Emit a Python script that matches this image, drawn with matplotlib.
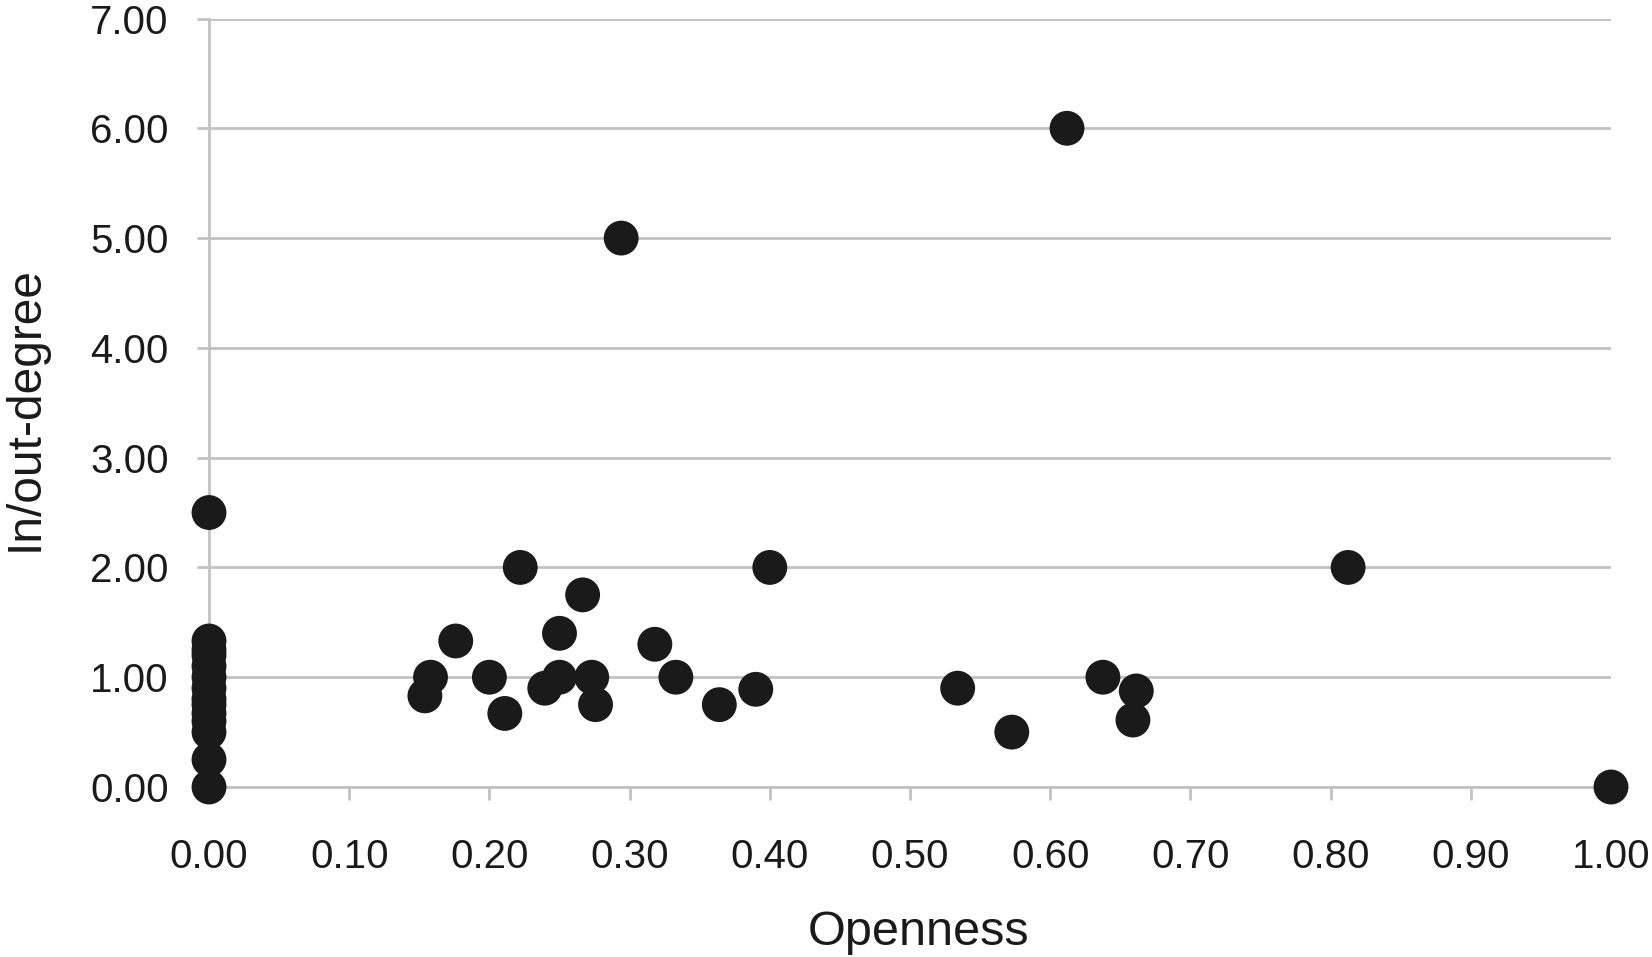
import matplotlib
matplotlib.use("Agg")
import matplotlib.pyplot as plt

plt.rcParams['font.family'] = ['Liberation Sans', 'DejaVu Sans']

# Openness (x) and In/out-degree (y)
openness = [0.0, 0.0, 0.0, 0.0, 0.0, 0.0, 0.0, 0.0, 0.0, 0.0, 0.0, 0.0, 0.0, 0.0,
            0.612, 0.294, 0.222, 0.400, 0.8125, 0.2665, 0.176, 0.250, 0.318,
            0.158, 0.154, 0.200, 0.211, 0.2395, 0.250, 0.273, 0.2757, 0.333,
            0.364, 0.390, 0.534, 0.5726, 0.6376, 0.6614, 0.659, 1.0]
degree = [2.5, 0.0, 0.25, 0.5, 0.6, 0.67, 0.75, 0.8, 0.9, 1.0, 1.1, 1.2, 1.25, 1.33,
          6.0, 5.0, 2.0, 2.0, 2.0, 1.75, 1.33, 1.4, 1.3,
          1.0, 0.83, 1.0, 0.67, 0.9, 1.0, 1.0, 0.75, 1.0,
          0.75, 0.89, 0.9, 0.5, 1.0, 0.875, 0.61, 0.0]

x_ticks = [0.0, 0.1, 0.2, 0.3, 0.4, 0.5, 0.6, 0.7, 0.8, 0.9, 1.0]
y_ticks = [0, 1, 2, 3, 4, 5, 6, 7]

grid_col = '#c2c2c2'
text_col = '#1a1a1a'
fig = plt.figure(figsize=(16.52, 9.57), dpi=100)
ax = fig.add_axes([209/1652, 1 - 787/957, (1611-209)/1652, (787-18.5)/957])

ax.scatter(openness, degree, s=630, color='#1a1a1a', edgecolors='none', zorder=3, clip_on=False)

ax.set_xlim(0, 1.0)
ax.set_ylim(0, 7)
ax.set_xticks(x_ticks)
ax.set_yticks(y_ticks)
ax.set_xticklabels([f"{v:.2f}" for v in x_ticks])
ax.set_yticklabels([f"{v:.2f}" for v in y_ticks])

ax.yaxis.grid(True, color=grid_col, linewidth=2.0)
ax.xaxis.grid(False)
ax.set_axisbelow(True)
for s in ['top', 'right']:
    ax.spines[s].set_visible(False)
for s in ['left', 'bottom']:
    ax.spines[s].set_color(grid_col)
    ax.spines[s].set_linewidth(2.0)

ax.tick_params(axis='y', length=9, width=2.0, color=grid_col, pad=20, labelsize=29, labelcolor=text_col)
ax.tick_params(axis='x', length=9, width=2.0, color=grid_col, pad=28, labelsize=29, labelcolor=text_col)

ax.set_xlabel('Openness', fontsize=35, color=text_col, va='center')
ax.xaxis.set_label_coords(0.506, -0.189)
ax.set_ylabel('In/out-degree', fontsize=34.5, color=text_col, va='center')
ax.yaxis.set_label_coords(-0.131, 0.493)

fig.savefig('out.png', dpi=100, facecolor='white')
